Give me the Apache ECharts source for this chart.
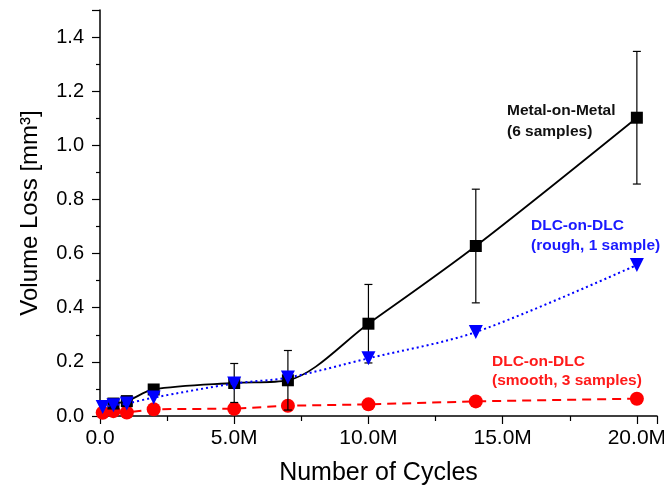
<!DOCTYPE html>
<html><head><meta charset="utf-8">
<script src="https://cdn.jsdelivr.net/npm/echarts@6/dist/echarts.min.js"></script>
<style>html,body{margin:0;padding:0;background:#fff}#c{width:664px;height:485px}</style>
</head><body><div id="c"></div>
<script>
// cycles in millions
const metalX = [0.5, 1, 2, 5, 7, 10, 14, 20];
const metalY = [0.046, 0.055, 0.098, 0.122, 0.132, 0.341, 0.628, 1.102];
const metalErr = [0, 0, 0, 0.072, 0.11, 0.145, 0.21, 0.245];
const roughX = [0.1, 0.5, 1, 2, 5, 7, 10, 14, 20];
const roughY = [0.033, 0.04, 0.046, 0.068, 0.12, 0.142, 0.213, 0.31, 0.558];
const smoothX = [0.1, 0.5, 1, 2, 5, 7, 10, 14, 20];
const smoothY = [0.012, 0.018, 0.013, 0.025, 0.027, 0.038, 0.043, 0.054, 0.064];
const xTicks = ['0.0', '5.0M', '10.0M', '15.0M', '20.0M'];
const yTicks = ['0.0', '0.2', '0.4', '0.6', '0.8', '1.0', '1.2', '1.4'];

const zip = (xs, ys) => xs.map((x, i) => [x, ys[i]]);
const errData = metalX.map((x, i) => [x, metalY[i] - metalErr[i], metalY[i] + metalErr[i]]).filter((d, i) => metalErr[i] > 0);

const FONT = '"Liberation Sans", Arial, sans-serif';
const chart = echarts.init(document.getElementById('c'));
chart.setOption({
  animation: false,
  backgroundColor: '#fff',
  grid: { left: 100, right: 7, top: 10, bottom: 69, containLabel: false, outerBoundsMode: 'none' },
  xAxis: {
    type: 'value', min: 0, max: 20.75, interval: 5,
    axisLine: { lineStyle: { color: '#000', width: 1.5 } },
    axisTick: { show: true, length: 8, inside: false, lineStyle: { color: '#000', width: 1.2 } },
    minorTick: { show: true, splitNumber: 2, length: 5, lineStyle: { color: '#000', width: 1.2 } },
    splitLine: { show: false },
    axisLabel: { color: '#000', fontSize: 21, fontFamily: FONT, margin: 12, showMaxLabel: false, hideOverlap: false,
      formatter: v => xTicks[Math.round(v / 5)] },
    name: 'Number of Cycles', nameLocation: 'middle', nameGap: 45,
    nameTextStyle: { color: '#000', fontSize: 25, fontFamily: FONT }
  },
  yAxis: {
    type: 'value', min: 0, max: 1.5, interval: 0.2,
    axisLine: { show: true, lineStyle: { color: '#000', width: 1.5 } },
    axisTick: { show: true, length: 8, lineStyle: { color: '#000', width: 1.2 } },
    minorTick: { show: true, splitNumber: 2, length: 4, lineStyle: { color: '#000', width: 1.2 } },
    splitLine: { show: false },
    axisLabel: { color: '#000', fontSize: 20, fontFamily: FONT, margin: 16, showMaxLabel: true,
      formatter: v => yTicks[Math.round(v / 0.2)] },
    name: 'Volume Loss [mm³]', nameLocation: 'middle', nameGap: 58,
    nameTextStyle: { color: '#000', fontSize: 24, fontFamily: FONT }
  },
  series: [
    {
      type: 'line', data: zip(smoothX, smoothY), symbol: 'circle', symbolSize: 14,
      itemStyle: { color: '#ff0000' }, lineStyle: { color: '#ff0000', width: 2, type: [9, 6] }, z: 3
    },
    {
      type: 'custom', data: errData, z: 4,
      renderItem: (params, api) => {
        const x = api.value(0);
        const lo = api.coord([x, api.value(1)]);
        const hi = api.coord([x, api.value(2)]);
        const c = 4;
        const st = { stroke: '#000', lineWidth: 1.2 };
        return { type: 'group', children: [
          { type: 'line', shape: { x1: lo[0], y1: lo[1], x2: hi[0], y2: hi[1] }, style: st },
          { type: 'line', shape: { x1: lo[0] - c, y1: lo[1], x2: lo[0] + c, y2: lo[1] }, style: st },
          { type: 'line', shape: { x1: hi[0] - c, y1: hi[1], x2: hi[0] + c, y2: hi[1] }, style: st }
        ]};
      }
    },
    {
      type: 'line', data: zip(metalX, metalY), symbol: 'rect', symbolSize: 12, smooth: 0.3,
      itemStyle: { color: '#000' }, lineStyle: { color: '#000', width: 1.8 }, z: 5
    },
    {
      type: 'line', data: zip(roughX, roughY), symbol: 'triangle', symbolRotate: 180, symbolSize: 14, smooth: 0.3,
      itemStyle: { color: '#0000ff' }, lineStyle: { color: '#0000ff', width: 2, type: [2, 3] }, z: 6
    }
  ],
  graphic: [
    { type: 'text', left: 507, top: 100, style: { text: 'Metal-on-Metal\n(6 samples)', fill: '#111', font: 'bold 15.5px ' + FONT, lineHeight: 21 } },
    { type: 'text', left: 531, top: 216, style: { text: 'DLC-on-DLC\n(rough, 1 sample)', fill: '#1a1aff', font: 'bold 15.5px ' + FONT, lineHeight: 20 } },
    { type: 'text', left: 492, top: 352, style: { text: 'DLC-on-DLC\n(smooth, 3 samples)', fill: '#ff1a1a', font: 'bold 15.5px ' + FONT, lineHeight: 19 } }
  ]
});
</script></body></html>
